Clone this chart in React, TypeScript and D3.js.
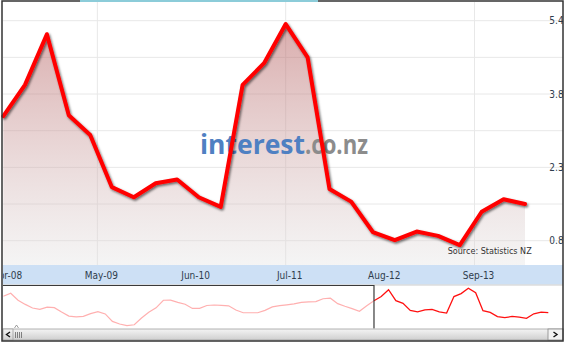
import React from "react";
import * as d3 from "d3";

// ---- data ----
const mainStart = new Date(Date.UTC(2008, 3, 1));
const historyStart = new Date(Date.UTC(1995, 6, 1));
const mainValues = [
  3.38, 4.03, 5.08, 3.4, 2.99, 1.91, 1.7, 1.99, 2.07, 1.7, 1.5, 4.03, 4.48,
  5.29, 4.6, 1.87, 1.61, 0.98, 0.81, 0.99, 0.9, 0.71, 1.4, 1.66, 1.56,
];
const historyValues = [
  4.07, 4.53, 3.46, 2.83, 2.28, 2.08, 2.4, 2.33, 1.67, 1.05, 0.94, 1.0, 1.43,
  1.72, 1.38, 0.24, -0.16, -0.4, -0.28, 0.76, 1.64, 2.31, 3.46, 3.49, 3.14,
  2.86, 2.22, 2.22, 2.66, 2.74, 2.68, 2.62, 1.98, 1.56, 1.56, 1.56, 1.92, 2.45,
  2.65, 2.77, 2.91, 3.15, 3.23, 3.26, 3.69, 3.78, 2.95, 2.54, 2.19, 1.79, 2.62,
];
const xTickDates = [
  new Date(Date.UTC(2008, 3, 1)),
  new Date(Date.UTC(2009, 4, 1)),
  new Date(Date.UTC(2010, 5, 1)),
  new Date(Date.UTC(2011, 6, 1)),
  new Date(Date.UTC(2012, 7, 1)),
  new Date(Date.UTC(2013, 8, 1)),
];
const yTickValues = [0.8, 2.32, 3.84, 5.36];
const yGridValues = [0.8, 1.56, 2.32, 3.08, 3.84, 4.6, 5.36];
const sourceText = "Source: Statistics NZ";

const mainDates = mainValues.map((_, i) => d3.utcMonth.offset(mainStart, 3 * i));
const historyDates = historyValues.map((_, i) => d3.utcMonth.offset(historyStart, 3 * i));
const mainData = mainValues.map((v, i) => ({ d: mainDates[i], v }));
const historyData = historyValues
  .map((v, i) => ({ d: historyDates[i], v }))
  .concat([mainData[0]]);

// ---- layout ----
const W = 567;
const H = 344;
const L = 3;
const R = 563;
const T = 2;
const PB = 265; // plot bottom
const BAND_B = 284.5;
const NAV_T = 285;
const NAV_B = 328.5;
const SB_T = 329;
const SB_B = 340;
const FONT = "'DejaVu Sans Condensed', 'DejaVu Sans', sans-serif";

export default function App() {
  const x = d3
    .scaleUtc()
    .domain([mainStart, mainDates[mainDates.length - 1]])
    .range([3.3, 525]);
  const y = d3.scaleLinear().domain([0.8, 5.36]).range([240.7, 20.7]);
  const nx = d3
    .scaleUtc()
    .domain([historyStart, mainDates[mainDates.length - 1]])
    .range([3.4, 548.3]);
  const ny = d3.scaleLinear().domain([-0.77, 5.79]).range([328, 285]);

  const line = d3
    .line<{ d: Date; v: number }>()
    .x((p) => x(p.d))
    .y((p) => y(p.v));
  const area = d3
    .area<{ d: Date; v: number }>()
    .x((p) => x(p.d))
    .y0(PB)
    .y1((p) => y(p.v));
  const navLine = d3
    .line<{ d: Date; v: number }>()
    .x((p) => nx(p.d))
    .y((p) => ny(p.v));
  const fmt = d3.utcFormat("%b-%y");
  const selX = nx(mainStart);

  return (
    <svg
      width={W}
      height={H}
      style={{ position: "absolute", left: 0, top: 0, background: "#fff" }}
    >
      <defs>
        <linearGradient id="fillG" x1="0" y1="0" x2="0" y2="1">
          <stop offset="0" stopColor="rgb(180,90,90)" stopOpacity={0.5} />
          <stop offset="1" stopColor="rgb(225,225,225)" stopOpacity={0.35} />
        </linearGradient>
        <linearGradient id="sbG" x1="0" y1="0" x2="0" y2="1">
          <stop offset="0" stopColor="#f4f4f4" />
          <stop offset="1" stopColor="#cfcfcf" />
        </linearGradient>
        <filter id="shadow" x="-5%" y="-5%" width="110%" height="120%">
          <feDropShadow dx="1.3" dy="1.6" stdDeviation="0.9" floodColor="#000" floodOpacity="0.55" />
        </filter>
        <clipPath id="plotClip">
          <rect x={L} y={T} width={R - L} height={BAND_B - T} />
        </clipPath>
      </defs>

      {/* horizontal gridlines */}
      {yGridValues.map((v, i) => (
        <line key={"hg" + i} x1={L} x2={R} y1={y(v)} y2={y(v)} stroke="#e8e8e8" strokeWidth={1} />
      ))}
      {/* vertical gridlines */}
      {xTickDates.map((d, i) =>
        i % 2 === 1 ? (
          <line key={"vg" + i} x1={x(d)} x2={x(d)} y1={T} y2={PB} stroke="#e8e8e8" strokeWidth={1} />
        ) : null
      )}

      {/* area */}
      <path d={area(mainData) || ""} fill="url(#fillG)" />

      {/* watermark */}
      <text x={200} y={153.5} fontFamily="'Open Sans', sans-serif" fontWeight={700} fontSize={26} fill="#4f80c2" textLength={105} lengthAdjust="spacingAndGlyphs">
        interest
      </text>
      <text x={305} y={153.5} fontFamily="'Open Sans', sans-serif" fontWeight={700} fontSize={26} fill="#8c8c8c" textLength={63} lengthAdjust="spacingAndGlyphs">
        .co.nz
      </text>

      {/* main line */}
      <path d={line(mainData) || ""} fill="none" stroke="#ff0000" strokeWidth={4} strokeLinejoin="round" strokeLinecap="round" filter="url(#shadow)" />

      {/* source */}
      <text x={447.7} y={253.5} fontFamily={FONT} fontSize={8.9} fill="#333" textLength={84} lengthAdjust="spacingAndGlyphs">
        {sourceText}
      </text>

      {/* band */}
      <rect x={L} y={PB} width={R - L} height={BAND_B - PB} fill="#cde0f5" />
      <g clipPath="url(#plotClip)">
        {xTickDates.map((d, i) => (
          <text key={"xl" + i} x={x(d) + 4} y={278.5} textAnchor="middle" fontFamily={FONT} fontSize={10} fill="#2f3d4d">
            {fmt(d)}
          </text>
        ))}
        {yTickValues.map((v, i) => (
          <text key={"yl" + i} x={549.3} y={y(v) + 3.6} fontFamily={FONT} fontSize={10} fill="#2f3d4d">
            {v.toFixed(1)}
          </text>
        ))}
      </g>

      {/* navigator */}
      <line x1={L} x2={R} y1={BAND_B + 0.5} y2={BAND_B + 0.5} stroke="#cccccc" strokeWidth={1} />
      <path d={navLine(historyData) || ""} fill="none" stroke="#ffb0b0" strokeWidth={1.2} />
      <path d={navLine(mainData) || ""} fill="none" stroke="#ff1010" strokeWidth={1.3} />
      <path d={`M${L},${NAV_T + 0.5} L${selX},${NAV_T + 0.5} L${selX},${NAV_B}`} fill="none" stroke="#3a3a3a" strokeWidth={1.2} />

      {/* scrollbar */}
      <rect x={L} y={SB_T} width={R - L} height={SB_B - SB_T} fill="url(#sbG)" stroke="#a0a0a0" strokeWidth={0.8} />
      <rect x={L} y={SB_T} width={10} height={SB_B - SB_T} fill="url(#sbG)" stroke="#a0a0a0" strokeWidth={0.8} />
      <path d={`M10,${SB_T + 3} L6.5,${SB_T + 5.5} L10,${SB_T + 8}`} fill="none" stroke="#111" strokeWidth={1.4} />
      {[15.5, 17.5, 19.5, 21.5].map((gx) => (
        <line key={"gr" + gx} x1={gx} x2={gx} y1={SB_T + 3} y2={SB_B - 2} stroke="#666" strokeWidth={0.8} />
      ))}
      <path d={`M14.5,${SB_T - 1} L16.5,${SB_T - 4} L18.5,${SB_T - 1}`} fill="none" stroke="#888" strokeWidth={0.8} />
      <rect x={548} y={SB_T} width={R - 548} height={SB_B - SB_T} fill="#f2f2f2" stroke="#888" strokeWidth={0.8} />
      <path d={`M553.5,${SB_T + 3} L557,${SB_T + 5.5} L553.5,${SB_T + 8}`} fill="none" stroke="#111" strokeWidth={1.4} />

      {/* frame */}
      <rect x={2} y={1} width={561} height={340} fill="none" stroke="#333" strokeWidth={1.5} />
      <rect x={80} y={0} width={238} height={2} fill="#8cccd9" />
    </svg>
  );
}
